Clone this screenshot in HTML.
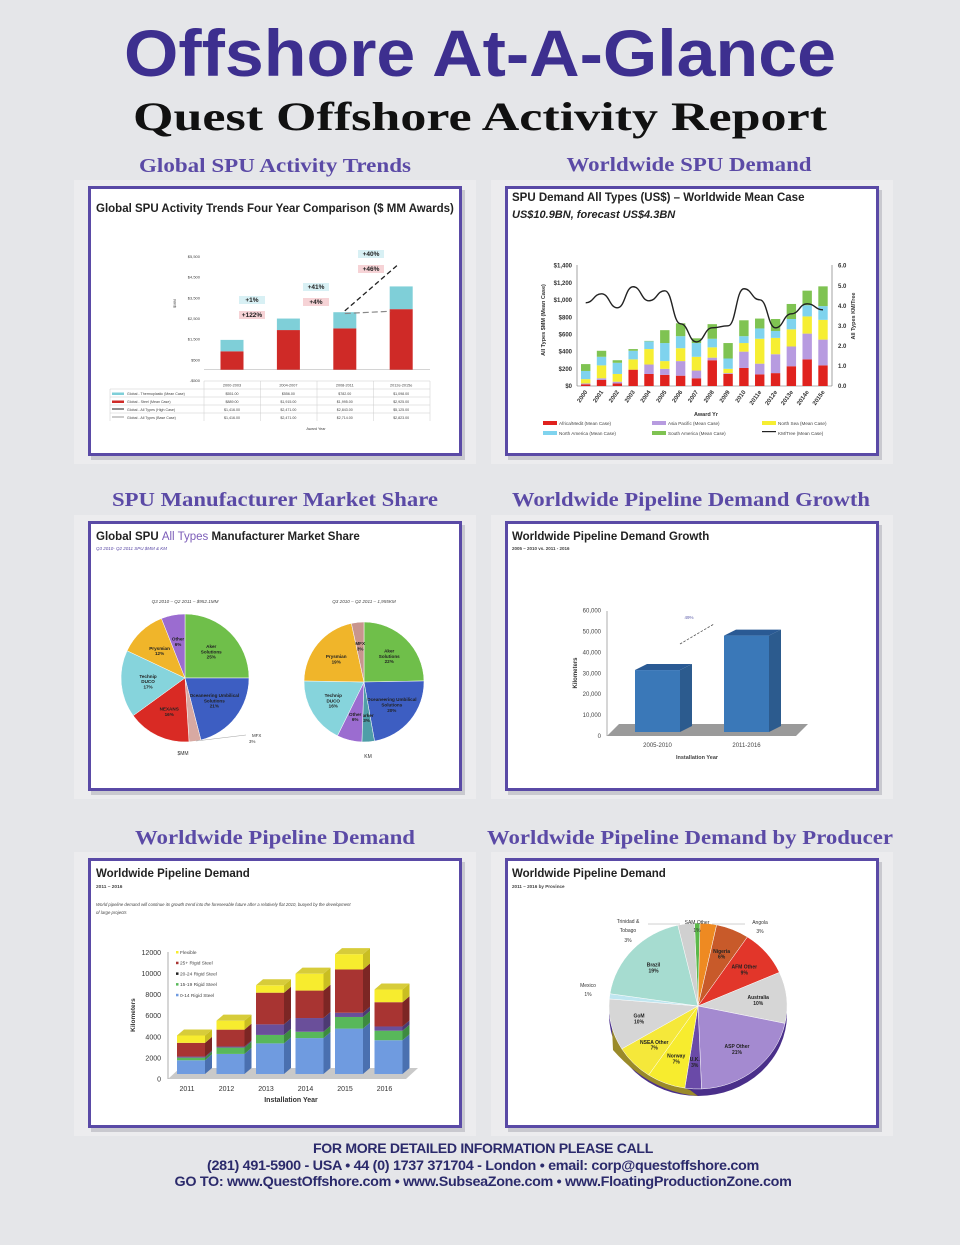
<!DOCTYPE html>
<html><head><meta charset="utf-8"><style>
html,body{margin:0;padding:0;background:#e5e6e9;}
svg{display:block;font-family:"Liberation Sans",sans-serif;}
.sec{font-family:"Liberation Serif",serif;font-weight:bold;fill:#5b4aa6;font-size:20px;text-anchor:middle;}
.ct{font-weight:bold;fill:#222;font-size:11.5px;}
.tk{font-size:6px;fill:#333;}
.foot{font-weight:bold;fill:#2b2a6b;font-size:13.5px;text-anchor:middle;letter-spacing:-0.3px;}
</style></head><body>
<svg id="page" width="960" height="1245" viewBox="0 0 960 1245">
<rect x="0" y="0" width="960" height="1245" fill="#e5e6e9"/>
<text x="480" y="76" text-anchor="middle" font-size="66" font-weight="bold" fill="#3d2f8f" textLength="712" lengthAdjust="spacingAndGlyphs">Offshore At-A-Glance</text>
<text x="480" y="130" text-anchor="middle" font-family="Liberation Serif,serif" font-size="40" font-weight="bold" fill="#111" textLength="694" lengthAdjust="spacingAndGlyphs">Quest Offshore Activity Report</text>
<text class="sec" x="275" y="172" textLength="272" lengthAdjust="spacingAndGlyphs">Global SPU Activity Trends</text>
<text class="sec" x="689" y="171" textLength="245" lengthAdjust="spacingAndGlyphs">Worldwide SPU Demand</text>
<text class="sec" x="275" y="506" textLength="326" lengthAdjust="spacingAndGlyphs">SPU Manufacturer Market Share</text>
<text class="sec" x="691" y="506" textLength="358" lengthAdjust="spacingAndGlyphs">Worldwide Pipeline Demand Growth</text>
<text class="sec" x="275" y="844" textLength="280" lengthAdjust="spacingAndGlyphs">Worldwide Pipeline Demand</text>
<text class="sec" x="690" y="844" textLength="406" lengthAdjust="spacingAndGlyphs">Worldwide Pipeline Demand by Producer</text>
<g id="panels"></g>
<g id="c1"></g><g id="c2"></g><g id="c3"></g><g id="c4"></g><g id="c5"></g><g id="c6"></g>
<text class="foot" x="483" y="1153" textLength="340" lengthAdjust="spacingAndGlyphs">FOR MORE DETAILED INFORMATION PLEASE CALL</text>
<text class="foot" x="483" y="1170" textLength="552" lengthAdjust="spacingAndGlyphs">(281) 491-5900 - USA  •  44 (0) 1737 371704 - London  •  email: corp@questoffshore.com</text>
<text class="foot" x="483" y="1186" textLength="617" lengthAdjust="spacingAndGlyphs">GO TO:  www.QuestOffshore.com •  www.SubseaZone.com  •  www.FloatingProductionZone.com</text>
</svg>
<script>
const NS='http://www.w3.org/2000/svg';
function mk(t,a,p){const e=document.createElementNS(NS,t);for(const k in a)e.setAttribute(k,a[k]);p.appendChild(e);return e;}
function tx(s,a,p){const e=mk('text',a,p);e.textContent=s;return e;}
const G=id=>document.getElementById(id);

const panelRects=[[88,186],[505,186],[88,521],[505,521],[88,858],[505,858]];
const panelNames=['panel-spu-trends','panel-spu-demand','panel-market-share','panel-pipeline-growth','panel-pipeline-demand','panel-pipeline-producer'];
panelRects.forEach((r,i)=>{
  const bg=mk('rect',{x:r[0]-14,y:r[1]-6,width:402,height:284,fill:'#ececee'},G('panels'));
  
  
  mk('rect',{x:r[0]+3,y:r[1]+4,width:374,height:270,fill:'#c9c9cf'},G('panels'));
  const p=mk('rect',{x:r[0]+1.5,y:r[1]+1.5,width:371,height:267,fill:'#fff',stroke:'#5a4aa6','stroke-width':3},G('panels'));
  
  
});

// ---------- Chart 1 ----------
const c1Cats=['2000-2003','2004-2007','2008-2011','2012e-2015e'];
const c1Steel=[889,1915,1995,2925];
const c1Thermo=[551,556,782,1098];
const c1High=[1416,2471,2843,5125];
const c1Base=[1416,2471,2714,2823];
const c1Ticks=[-500,500,1500,2500,3500,4500,5500];
const c1TickLbl=['-$500','$500','$1,500','$2,500','$3,500','$4,500','$5,500'];
const c1Ann=[['+1%','+122%'],['+41%','+4%'],['+40%','+46%']];
(function(){
  const g=G('c1');
  tx('Global SPU Activity Trends Four Year Comparison ($ MM Awards)',{x:96,y:212,class:'ct','font-size':11},g);
  const y=v=>369.7-v*0.0207, x=i=>232+i*56.4;
  c1Ticks.forEach((t,i)=>{tx(c1TickLbl[i],{x:200,y:y(t)+2,'text-anchor':'end','font-size':4,fill:'#444'},g);});
  mk('line',{x1:204,y1:y(0),x2:430,y2:y(0),stroke:'#bbb','stroke-width':0.7},g);
  tx('$MM',{x:176,y:308,'font-size':4,fill:'#444',transform:'rotate(-90 176 308)'},g);
  c1Cats.forEach((c,i)=>{
    const b1=mk('rect',{x:x(i)-11.5,y:y(c1Steel[i]),width:23,height:y(0)-y(c1Steel[i]),fill:'#cf2a27'},g);
    
    
    const b2=mk('rect',{x:x(i)-11.5,y:y(c1Steel[i]+c1Thermo[i]),width:23,height:y(0)-y(c1Thermo[i]),fill:'#7fcfd8'},g);
    
    
  });
  const hl=mk('line',{x1:x(2),y1:y(c1High[2]),x2:x(3)-2,y2:y(c1High[3]),stroke:'#222','stroke-width':1.3,'stroke-dasharray':'5,3'},g);
  
  
  const bl=mk('line',{x1:x(2),y1:y(c1Base[2]),x2:x(3)-11,y2:y(c1Base[3]),stroke:'#888','stroke-width':1.2,'stroke-dasharray':'6,3'},g);
  
  
  c1Ann.forEach((a,i)=>{
    const cx=[252,316,371][i],cy=[302,289,256][i];
    mk('rect',{x:cx-13,y:cy-6,width:26,height:8,fill:'#d8f0f4'},g);
    tx(a[0],{x:cx,y:cy,'text-anchor':'middle','font-size':6.5,'font-weight':'bold',fill:'#222'},g);
    mk('rect',{x:cx-13,y:cy+9,width:26,height:8,fill:'#f6d3d6'},g);
    tx(a[1],{x:cx,y:cy+15,'text-anchor':'middle','font-size':6.5,'font-weight':'bold',fill:'#222'},g);
  });
  const rows=['Global - Thermoplastic (Mean Case)','Global - Steel (Mean Case)','Global - All Types (High Case)','Global - All Types (Base Case)'];
  const rowVals=[c1Thermo,c1Steel,c1High,c1Base];
  for(let r=0;r<5;r++) mk('line',{x1:r?110:204,y1:381+r*8,x2:430,y2:381+r*8,stroke:'#ccc','stroke-width':0.5},g);
  mk('line',{x1:110,y1:389,x2:110,y2:421,stroke:'#ccc','stroke-width':0.5},g);
  for(let cI=0;cI<5;cI++) mk('line',{x1:204+cI*56.5,y1:381,x2:204+cI*56.5,y2:421,stroke:'#ccc','stroke-width':0.5},g);
  c1Cats.forEach((c,i)=>tx(c,{x:x(i),y:386.5,'text-anchor':'middle','font-size':3.8,fill:'#444'},g));
  const sw=['#7fcfd8','#cf2a27','#222','#999'];
  rows.forEach((r,ri)=>{
    mk('rect',{x:112,y:392.5+ri*8,width:12,height:ri<2?2.5:1,fill:sw[ri]},g);
    tx(r,{x:127,y:395+ri*8,'font-size':3.6,fill:'#444'},g);
    rowVals[ri].forEach((v,i)=>tx('$'+v.toLocaleString('en-US')+'.00',{x:x(i),y:395+ri*8,'text-anchor':'middle','font-size':3.6,fill:'#444'},g));
  });
  tx('Award Year',{x:316,y:430,'text-anchor':'middle','font-size':3.8,fill:'#444'},g);
})();

// ---------- Chart 2 ----------
const c2Years=['2000','2001','2002','2003','2004','2005','2006','2007','2008','2009','2010','2011e','2012e','2013e','2014e','2015e'];
const c2Africa=[20,70,30,190,140,130,120,90,300,140,210,135,150,230,310,240];
const c2Asia=[10,20,20,0,110,70,170,90,30,10,190,125,220,230,300,300];
const c2NorthSea=[50,150,90,120,180,90,150,160,120,50,100,290,190,200,200,230];
const c2NorthAm=[95,100,130,100,90,210,140,160,100,120,80,120,80,120,130,160];
const c2SouthAm=[80,70,30,20,5,150,150,55,170,180,185,115,140,175,170,230];
const c2Km=[4.15,4.6,3.9,4.95,4.25,4.75,3.1,2.2,2.9,3.0,4.85,4.3,2.9,3.6,4.1,3.8];
const c2LeftTicks=[0,200,400,600,800,1000,1200,1400];
const c2RightTicks=[0,1,2,3,4,5,6];
(function(){
  const g=G('c2');
  tx('SPU Demand All Types (US$) – Worldwide Mean Case',{x:512,y:201,class:'ct','font-size':12},g);
  tx('US$10.9BN, forecast US$4.3BN',{x:512,y:218,'font-size':11,'font-weight':'bold','font-style':'italic',fill:'#222'},g);
  const y=v=>386-v*0.0859, yr=v=>386-v*20.05, x=i=>585.7+i*15.82;
  c2LeftTicks.forEach(t=>tx('$'+t.toLocaleString('en-US'),{x:572,y:y(t)+2,'text-anchor':'end','font-size':6,'font-weight':'bold',fill:'#333'},g));
  c2RightTicks.forEach(t=>tx(t.toFixed(1),{x:838,y:yr(t)+2,'font-size':6,'font-weight':'bold',fill:'#333'},g));
  mk('line',{x1:577,y1:386,x2:832,y2:386,stroke:'#666','stroke-width':0.6},g);
  mk('line',{x1:577,y1:265,x2:577,y2:386,stroke:'#666','stroke-width':0.6},g);
  mk('line',{x1:832,y1:265,x2:832,y2:386,stroke:'#666','stroke-width':0.6},g);
  tx('All Types $MM (Mean Case)',{x:545,y:320,'text-anchor':'middle','font-size':5.5,'font-weight':'bold',fill:'#333',transform:'rotate(-90 545 320)'},g);
  tx('All Types KM/Tree',{x:855,y:316,'text-anchor':'middle','font-size':5.5,'font-weight':'bold',fill:'#333',transform:'rotate(-90 855 316)'},g);
  const ser=[c2Africa,c2Asia,c2NorthSea,c2NorthAm,c2SouthAm], col=['#e0221e','#b79be0','#f6ee32','#7fd3ee','#7fc352'], nm=['africa','asia-pacific','north-sea','north-america','south-america'];
  c2Years.forEach((yy,i)=>{
    let acc=0;
    ser.forEach((s,si)=>{
      const r=mk('rect',{x:x(i)-4.7,y:y(acc+s[i]),width:9.4,height:s[i]*0.0859,fill:col[si]},g);
      
      
      acc+=s[i];
    });
    tx(yy,{x:x(i)+2,y:392,'text-anchor':'end','font-size':6,'font-weight':'bold',fill:'#333',transform:`rotate(-55 ${x(i)+2} 392)`},g);
  });
  let d='';
  c2Km.forEach((v,i)=>{
    if(!i){d='M'+x(0)+','+yr(v);return;}
    const x0=x(i-1),y0=yr(c2Km[i-1]),x1=x(i),y1=yr(v),mx=(x0+x1)/2;
    d+=` C${mx},${y0} ${mx},${y1} ${x1},${y1}`;
  });
  const ln=mk('path',{d:d,fill:'none',stroke:'#222','stroke-width':1.4},g);
  
  
  tx('Award Yr',{x:706,y:416,'text-anchor':'middle','font-size':5.5,'font-weight':'bold',fill:'#333'},g);
  const lg=[['Africa/Medit (Mean Case)',col[0],543,424],['Asia Pacific (Mean Case)',col[1],652,424],['North Sea (Mean Case)',col[2],762,424],['North America (Mean Case)',col[3],543,434],['South America (Mean Case)',col[4],652,434],['KM/Tree (Mean Case)','#222',762,434]];
  lg.forEach(l=>{mk('rect',{x:l[2],y:l[3]-3,width:14,height:l[1]=='#222'?1.2:4,fill:l[1]},g);tx(l[0],{x:l[2]+16,y:l[3]+1,'font-size':4.6,fill:'#444'},g);});
})();

// ---------- Chart 3 ----------
const c3LeftNames=['Aker Solutions','Oceaneering Umbilical Solutions','MFX','NEXANS','Technip DUCO','Prysmian','Other'];
const c3LeftVals=[25,21,3,16,17,12,6];
const c3RightNames=['Aker Solutions','Oceaneering Umbilical Solutions','Parker','Other','Technip DUCO','Prysmian','MFX'];
const c3RightVals=[22,20,3,6,16,19,3];
function pie(g,cx,cy,rx,ry,vals,names,cols,start,pref,lblR,fs,ext){
  const tot=vals.reduce((a,b)=>a+b,0);let a=start;
  vals.forEach((v,i)=>{
    const a2=a+v/tot*2*Math.PI;
    const p=(t,k)=>[cx+rx*k*Math.sin(t),cy-ry*k*Math.cos(t)];
    const [x1,y1]=p(a,1),[x2,y2]=p(a2,1);
    const s=mk('path',{d:`M${cx},${cy} L${x1},${y1} A${rx},${ry} 0 ${a2-a>Math.PI?1:0} 1 ${x2},${y2} Z`,fill:cols[i],stroke:'#fff','stroke-width':0.5},g);
    
    
    if(!ext||!ext.includes(i)){
      const [lx,ly]=p((a+a2)/2,lblR);
      const words=names[i].split(' ');
      const lines=words.length>2?[words.slice(0,-1).join(' '),words[words.length-1]]:(names[i].length>11?words:[names[i]]);
      lines.push(v+'%');
      lines.forEach((ln,k)=>tx(ln,{x:lx,y:ly+(k-(lines.length-1)/2)*fs*1.15+fs*0.35,'text-anchor':'middle','font-size':fs,'font-weight':'bold',fill:'#222'},g));
    }
    a=a2;
  });
}
(function(){
  const g=G('c3');
  const t=tx('',{x:96,y:540,class:'ct','font-size':12},g);
  t.innerHTML='Global SPU <tspan fill="#7b5cb8" font-weight="normal">All Types</tspan> Manufacturer Market Share';
  tx('Q3 2010- Q2 2011 SPU $MM & KM',{x:96,y:550,'font-size':4.5,'font-style':'italic',fill:'#5b4aa6'},g);
  tx('Q3 2010 – Q2 2011 – $952.1MM',{x:185,y:603,'text-anchor':'middle','font-size':4.6,'font-style':'italic',fill:'#444'},g);
  tx('Q3 2010 – Q2 2011 – 1,955KM',{x:364,y:603,'text-anchor':'middle','font-size':4.6,'font-style':'italic',fill:'#444'},g);
  pie(g,185,678,64,64,c3LeftVals,c3LeftNames,['#6fbf4a','#3d5ec2','#d8a9a2','#d92a24','#86d4dc','#f0b52a','#9b6cd0'],0,'left',0.58,4.6,[2]);
  tx('MFX',{x:252,y:737,'font-size':4.4,fill:'#333'},g);tx('3%',{x:249,y:743,'font-size':4.4,fill:'#333'},g);
  mk('line',{x1:196,y1:741,x2:246,y2:735,stroke:'#888','stroke-width':0.4},g);
  tx('$MM',{x:183,y:755,'text-anchor':'middle','font-size':5,fill:'#333'},g);
  pie(g,364,682,60,60,c3RightVals,c3RightNames,['#6fbf4a','#3d5ec2','#4f9ea8','#9b6cd0','#86d4dc','#f0b52a','#c8958e'],0,'right',0.6,4.6);
  tx('KM',{x:368,y:758,'text-anchor':'middle','font-size':5,fill:'#333'},g);
})();

// ---------- Chart 4 ----------
const c4Cats=['2005-2010','2011-2016'];
const c4Vals=[33500,50000];
const c4Ticks=[0,10000,20000,30000,40000,50000,60000];
(function(){
  const g=G('c4');
  tx('Worldwide Pipeline Demand Growth',{x:512,y:540,class:'ct','font-size':12},g);
  tx('2005 – 2010 vs. 2011 - 2016',{x:512,y:550,'font-size':4.5,fill:'#444','font-weight':'bold'},g);
  const y=v=>736-v*0.002088;
  mk('path',{d:'M607,736 L619,724 L808,724 L796,736 Z',fill:'#9a9a9a'},g);
  mk('line',{x1:607,y1:611,x2:607,y2:736,stroke:'#777','stroke-width':0.6},g);
  c4Ticks.forEach(t=>tx(t.toLocaleString('en-US'),{x:601,y:y(t)+2,'text-anchor':'end','font-size':6,fill:'#444'},g));
  tx('Kilometers',{x:577,y:673,'text-anchor':'middle','font-size':6,'font-weight':'bold',fill:'#333',transform:'rotate(-90 577 673)'},g);
  const xs=[635,724];
  c4Cats.forEach((c,i)=>{
    const x0=xs[i],w=45,top=y(c4Vals[i])+4;
    mk('path',{d:`M${x0+w},${top} L${x0+w+12},${top-6} L${x0+w+12},${732-6} L${x0+w},732 Z`,fill:'#2c5b8e'},g);
    mk('path',{d:`M${x0},${top} L${x0+12},${top-6} L${x0+w+12},${top-6} L${x0+w},${top} Z`,fill:'#2a5a94'},g);
    const r=mk('rect',{x:x0,y:top,width:w,height:732-top,fill:'#3a78b8'},g);
    
    
    tx(c,{x:x0+w/2,y:747,'text-anchor':'middle','font-size':6,fill:'#444'},g);
  });
  mk('line',{x1:680,y1:644,x2:714,y2:624,stroke:'#555','stroke-width':0.8,'stroke-dasharray':'2.5,1.5'},g);
  tx('49%',{x:689,y:619,'text-anchor':'middle','font-size':4.5,fill:'#5b5ba8'},g);
  tx('Installation Year',{x:697,y:759,'text-anchor':'middle','font-size':5.5,'font-weight':'bold',fill:'#444'},g);
})();

// ---------- Chart 5 ----------
const c5Years=['2011','2012','2013','2014','2015','2016'];
const c5Rigid014=[1300,1900,2900,3400,4300,3200];
const c5Rigid1519=[250,600,800,600,1100,900];
const c5Rigid2024=[100,100,1000,1300,400,400];
const c5Rigid25=[1300,1600,3000,2600,4100,2300];
const c5Flexible=[700,850,700,1600,1450,1200];
const c5Ticks=[0,2000,4000,6000,8000,10000,12000];
(function(){
  const g=G('c5');
  tx('Worldwide Pipeline Demand',{x:96,y:877,class:'ct','font-size':12},g);
  tx('2011 – 2016',{x:96,y:888,'font-size':4.8,'font-weight':'bold',fill:'#444'},g);
  tx('World pipeline demand will continue its growth trend into the foreseeable future after a relatively flat 2010, buoyed by the development',{x:96,y:906,'font-size':4.3,'font-style':'italic',fill:'#444'},g);
  tx('of large projects',{x:96,y:914,'font-size':4.3,'font-style':'italic',fill:'#444'},g);
  const y=v=>1079-v*0.01056, x=i=>191+i*39.5;
  mk('path',{d:'M168,1079 L180,1068 L418,1068 L406,1079 Z',fill:'#c9c9c9'},g);
  mk('line',{x1:168,y1:952,x2:168,y2:1079,stroke:'#777','stroke-width':0.6},g);
  c5Ticks.forEach(t=>tx(String(t),{x:161,y:y(t)+2.5,'text-anchor':'end','font-size':7,fill:'#333'},g));
  tx('Kilometers',{x:135,y:1015,'text-anchor':'middle','font-size':6.5,'font-weight':'bold',fill:'#333',transform:'rotate(-90 135 1015)'},g);
  const ser=[c5Rigid014,c5Rigid1519,c5Rigid2024,c5Rigid25,c5Flexible], col=['#6f9be0','#58b85a','#6a4f9a','#a83432','#f7ec2e'], side=['#4a70b0','#3d8a40','#4c3a72','#7c2624','#c9be22'], nm=['0-14-rigid-steel','15-19-rigid-steel','20-24-rigid-steel','25-plus-rigid-steel','flexible'];
  c5Years.forEach((yy,i)=>{
    let acc=0;const bx=x(i)-14,base=1074;
    ser.forEach((s,si)=>{
      const y0=base-acc*0.01056,y1=base-(acc+s[i])*0.01056;
      mk('path',{d:`M${bx+28},${y1} L${bx+35},${y1-6} L${bx+35},${y0-6} L${bx+28},${y0} Z`,fill:side[si]},g);
      const r=mk('rect',{x:bx,y:y1,width:28,height:y0-y1,fill:col[si]},g);
      
      
      acc+=s[i];
      if(si==4) mk('path',{d:`M${bx},${y1} L${bx+7},${y1-6} L${bx+35},${y1-6} L${bx+28},${y1} Z`,fill:'#d7cc3a'},g);
    });
    tx(yy,{x:x(i)-4,y:1091,'text-anchor':'middle','font-size':7,fill:'#333'},g);
  });
  tx('Installation Year',{x:291,y:1102,'text-anchor':'middle','font-size':7,'font-weight':'bold',fill:'#333'},g);
  ['Flexible','25+ Rigid Steel','20-24 Rigid Steel','15-19 Rigid Steel','0-14 Rigid Steel'].forEach((l,k)=>{
    mk('rect',{x:176,y:951+k*10.7,width:2.5,height:2.5,fill:[col[4],col[3],'#222',col[1],col[0]][k]},g);
    tx(l,{x:180,y:954+k*10.7,'font-size':4.8,fill:'#444'},g);
  });
})();

// ---------- Chart 6 ----------
const c6Names=['SAM Other','Angola','Nigeria','AFM Other','Australia','ASP Other','U.K.','Norway','NSEA Other','GoM','Mexico','Brazil','Trinidad & Tobago'];
const c6Vals=[1,3,6,9,10,21,3,7,7,10,1,19,3];
(function(){
  const g=G('c6');
  tx('Worldwide Pipeline Demand',{x:512,y:877,class:'ct','font-size':12},g);
  tx('2011 – 2016 by Province',{x:512,y:888,'font-size':4.6,'font-weight':'bold',fill:'#444'},g);
  mk('ellipse',{cx:698,cy:1014,rx:89,ry:82,fill:'#4a2f8a'},g);
  mk('path',{d:'M611,1005 Q620,1070 690,1090 L698,1096 Q650,1092 613,1050 Z',fill:'#9a8a2a'},g);
  const cols=['#5bb84a','#ee8a22','#c85a2a','#e2362a','#d6d6d6','#a48ad0','#6a4aa8','#f7ec2e','#f5e83a','#d6d6d6','#bfe6f0','#a6dcd0','#d0d0d0'];
  pie(g,698,1006,89,83,c6Vals,c6Names,cols,-0.04,'province',0.68,5,[0,1,10,12]);
  tx('SAM Other',{x:697,y:924,'text-anchor':'middle','font-size':5,fill:'#333'},g);tx('1%',{x:697,y:932,'text-anchor':'middle','font-size':5,fill:'#333'},g);
  tx('Angola',{x:760,y:924,'text-anchor':'middle','font-size':5,fill:'#333'},g);tx('3%',{x:760,y:933,'text-anchor':'middle','font-size':5,fill:'#333'},g);
  tx('Trinidad &',{x:628,y:923,'text-anchor':'middle','font-size':5,fill:'#333'},g);tx('Tobago',{x:628,y:932,'text-anchor':'middle','font-size':5,fill:'#333'},g);tx('3%',{x:628,y:942,'text-anchor':'middle','font-size':5,fill:'#333'},g);
  tx('Mexico',{x:588,y:987,'text-anchor':'middle','font-size':5,fill:'#333'},g);tx('1%',{x:588,y:996,'text-anchor':'middle','font-size':5,fill:'#333'},g);
  mk('polyline',{points:'648,924 680,924',fill:'none',stroke:'#888','stroke-width':0.4},g);
  mk('polyline',{points:'712,924 745,924',fill:'none',stroke:'#888','stroke-width':0.4},g);
})();
</script>
</body></html>
